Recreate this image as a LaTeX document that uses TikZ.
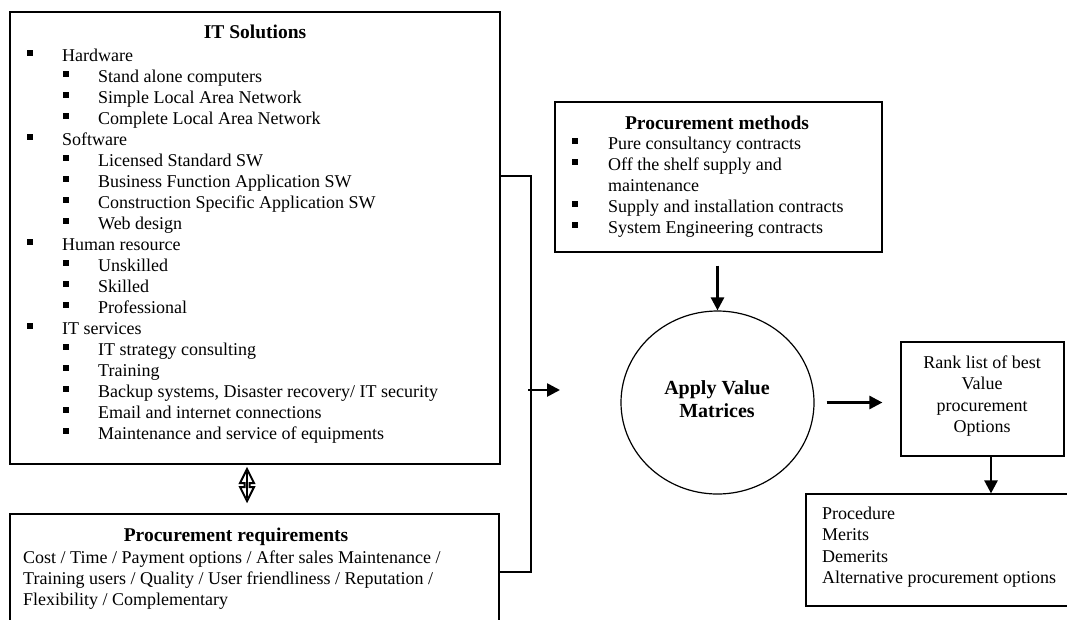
\documentclass[tikz,border=0pt]{standalone}
\usepackage{fontspec}
\setmainfont{Liberation Serif}
\usetikzlibrary{arrows.meta,shapes.geometric}
\tikzset{
 box/.style={draw, line width=1.2pt, rectangle, inner sep=0pt},
 arr/.style={line width=2.6pt, -{Triangle[length=13pt,width=13pt]}},
 conn/.style={line width=1.2pt},
 txt/.style={anchor=base west, inner sep=0pt, font=\fontsize{18}{21}\selectfont},
 ctxt/.style={anchor=base, inner sep=0pt, font=\fontsize{18}{21}\selectfont},
 btxt/.style={anchor=base, inner sep=0pt, font=\fontsize{19.5}{21}\selectfont\bfseries},
 bul/.style={fill, minimum size=5.5pt, inner sep=0pt, rectangle},
}
\begin{document}
\begin{tikzpicture}[x=1pt,y=-1pt]
\useasboundingbox (0,0) rectangle (1067,619);
\clip (0,0) rectangle (1067,619);
% boxes
\node[box, minimum width=490pt, minimum height=452pt] (its) at (255,238) {};
\node[box, minimum width=489pt, minimum height=126pt] (reqs) at (254.5,577) {};
\node[box, minimum width=327pt, minimum height=150pt] (methods) at (718.5,177) {};
\node[draw, line width=1.2pt, ellipse, minimum width=193pt, minimum height=183pt, inner sep=0pt] (circ) at (717.5,402.5) {};
\node[box, minimum width=163pt, minimum height=114pt] (rank) at (982.5,399) {};
\node[box, minimum width=264pt, minimum height=112pt] (out) at (938,550) {};
% IT solutions
\node[btxt] (itstitle) at (255,38) {IT Solutions};
\foreach \bx/\t [count=\i from 0] in {30/Hardware, 66/{Stand alone computers}, 66/{Simple Local Area Network}, 66/{Complete Local Area Network}, 30/Software, 66/{Licensed Standard SW}, 66/{Business Function Application SW}, 66/{Construction Specific Application SW}, 66/{Web design}, 30/{Human resource}, 66/Unskilled, 66/Skilled, 66/Professional, 30/{IT services}, 66/{IT strategy consulting}, 66/Training, 66/{Backup systems, Disaster recovery/ IT security}, 66/{Email and internet connections}, 66/{Maintenance and service of equipments}}{
  \node[bul] (itb\i) at (\bx, 53+21*\i) {};
  \node[txt] (itt\i) at (\bx+32, 61+21*\i) {\t};
}
% procurement requirements
\node[btxt] (reqtitle) at (236,541) {Procurement requirements};
\node[txt] (req1) at (23,563) {Cost / Time / Payment options / After sales Maintenance /};
\node[txt] (req2) at (23,584) {Training users / Quality / User friendliness / Reputation /};
\node[txt] (req3) at (23,605) {Flexibility / Complementary};
% procurement methods
\node[btxt] (mtitle) at (717,129) {Procurement methods};
\node[bul] (mb1) at (575,141) {};
\node[txt] (mt1) at (608,149) {Pure consultancy contracts};
\node[bul] (mb2) at (575,162) {};
\node[txt] (mt2) at (608,170) {Off the shelf supply and};
\node[txt] (mt2b) at (608,191) {maintenance};
\node[bul] (mb3) at (575,204) {};
\node[txt] (mt3) at (608,212) {Supply and installation contracts};
\node[bul] (mb4) at (575,225) {};
\node[txt] (mt4) at (608,233) {System Engineering contracts};
% circle text
\node[btxt, font=\fontsize{20}{23}\selectfont\bfseries] (c1) at (717,394) {Apply Value};
\node[btxt, font=\fontsize{20}{23}\selectfont\bfseries] (c2) at (717,417) {Matrices};
% rank text
\node[ctxt] (r1) at (982,368) {Rank list of best};
\node[ctxt] (r2) at (982,389.5) {Value};
\node[ctxt] (r3) at (982,411) {procurement};
\node[ctxt] (r4) at (982,432.5) {Options};
% outcome text
\node[txt] (o1) at (822,519) {Procedure};
\node[txt] (o2) at (822,540.5) {Merits};
\node[txt] (o3) at (822,562) {Demerits};
\node[txt] (o4) at (822,583.5) {Alternative procurement options};
% connectors
\coordinate (bt) at (531,176);
\coordinate (bb) at (531,572);
\coordinate (bm) at (528,390);
\coordinate (af) at (560,390);
\draw[conn] (its.east |- bt) -- (bt) -- (bb) -- (reqs.east |- bb);
\draw[arr] (bm) -- (af);
\draw[arr, shorten <=13pt] (methods.south -| circ.north) -- (circ.north);
\draw[arr, shorten <=12pt, shorten >=18pt] (circ.east) -- (circ.east -| rank.west);
\coordinate (rx) at (991,0);
\draw[arr] (rank.south -| rx) -- (out.north -| rx);
% double arrow between IT solutions and requirements
\draw[line width=2pt, fill=white, line join=miter] (247,469) -- (254,483) -- (249.5,483) -- (249.5,487) -- (254,487) -- (247,501) -- (240,487) -- (244.5,487) -- (244.5,483) -- (240,483) -- cycle;
\draw[line width=1.4pt] (247,472) -- (247,498);
\end{tikzpicture}
\end{document}
